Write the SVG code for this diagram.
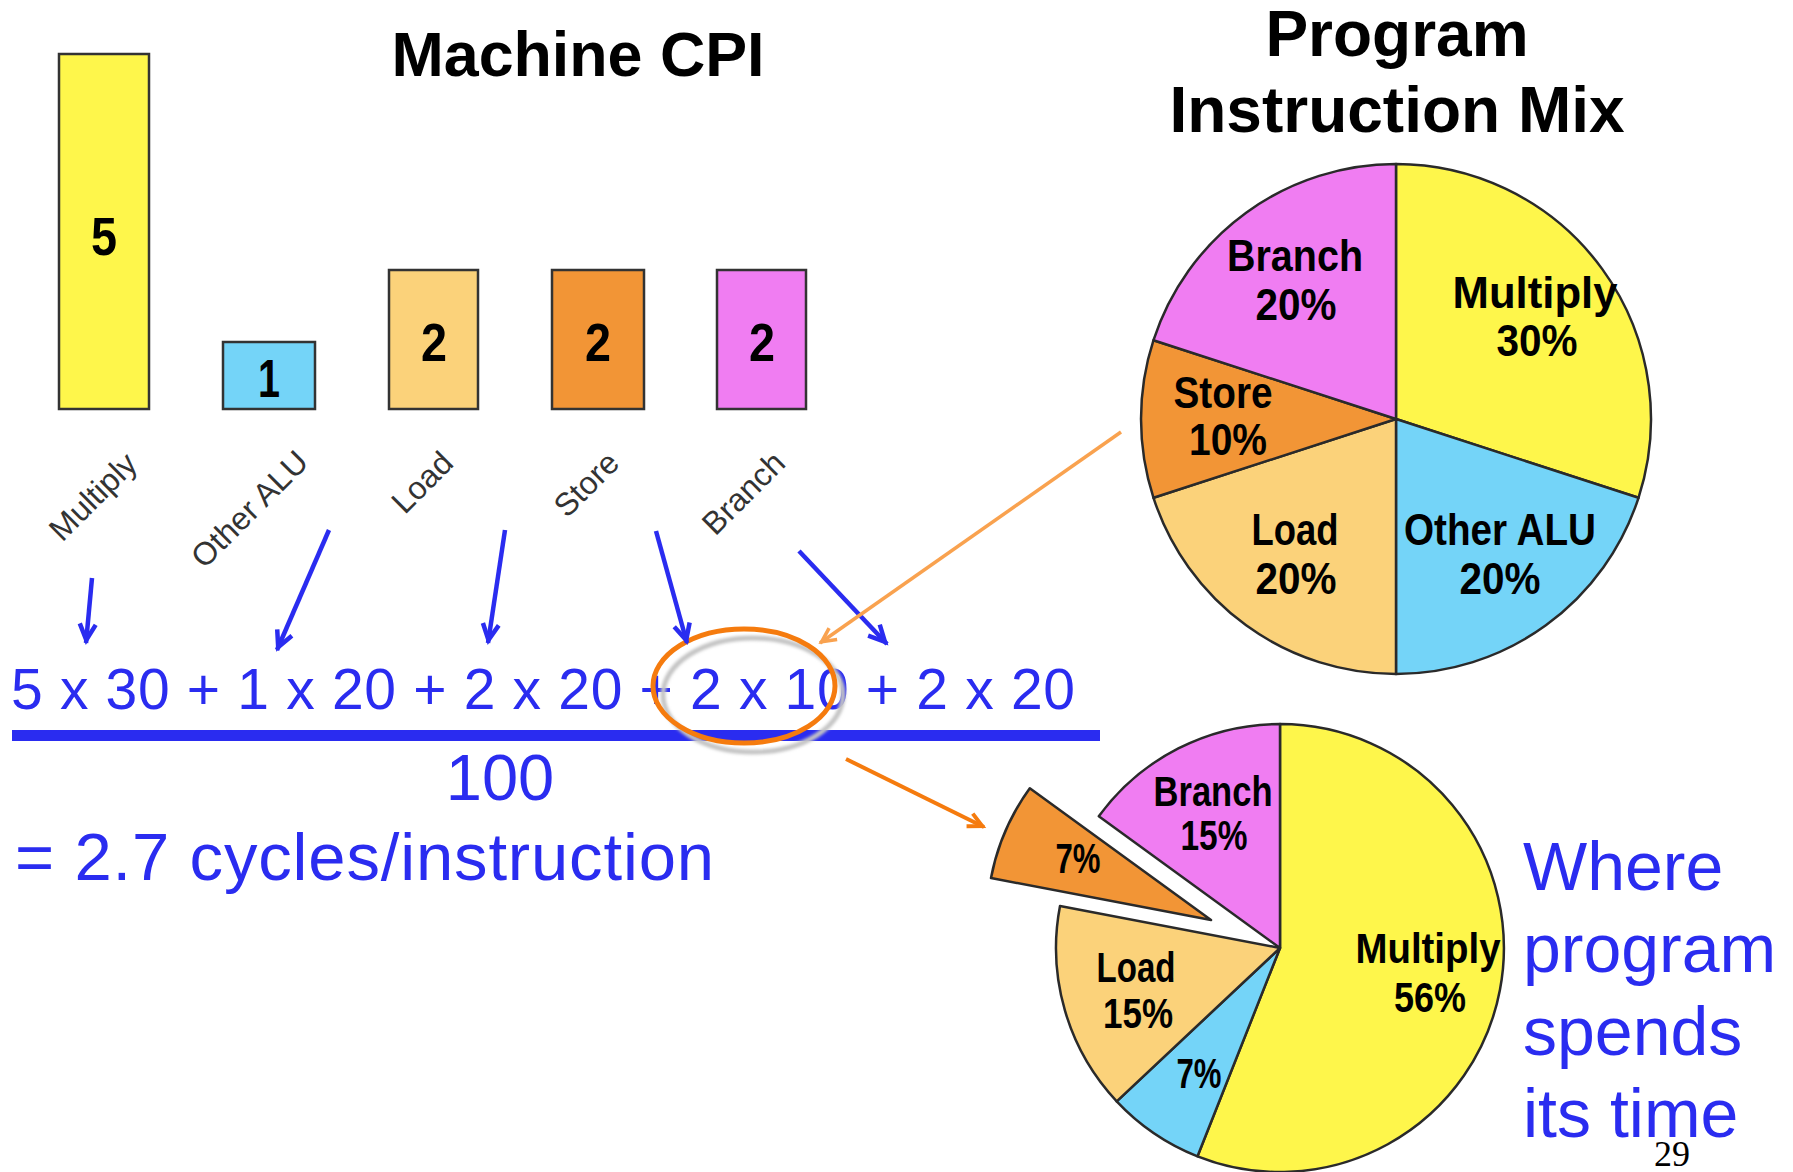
<svg xmlns="http://www.w3.org/2000/svg" width="1793" height="1172" viewBox="0 0 1793 1172">
<style>
.title{font-family:"Liberation Sans",Arial,sans-serif;font-weight:bold;fill:#000;text-anchor:middle}
.blue{font-family:"Liberation Sans",Arial,sans-serif;fill:#2A2CF0}
.axis{font-family:"Liberation Sans",Arial,sans-serif;font-size:32px;fill:#333;text-anchor:end}
.num{font-family:"Liberation Sans",Arial,sans-serif;font-weight:bold;font-size:54px;fill:#000;text-anchor:middle}
.pl{font-family:"Liberation Sans",Arial,sans-serif;font-weight:bold;font-size:45px;fill:#000;text-anchor:middle}
.pl2{font-family:"Liberation Sans",Arial,sans-serif;font-weight:bold;font-size:42px;fill:#000;text-anchor:middle}
.bar{stroke:#333;stroke-width:2.5}
.sl{stroke:#2a2a2a;stroke-width:2.5;stroke-linejoin:round}
.yel{fill:#FEF64B}.cya{fill:#74D4F8}.lor{fill:#FBD27A}.org{fill:#F29536}.mag{fill:#F07DF2}
.barr{stroke:#2A2CF0;stroke-width:4.5;fill:none;marker-end:url(#ab)}
</style>
<defs>
<marker id="ab" markerUnits="userSpaceOnUse" markerWidth="30" markerHeight="30" viewBox="-22 -15 30 30" refX="3" refY="0" orient="auto">
<path d="M-16,-8 L0,0 L-16,8" fill="none" stroke="#2A2CF0" stroke-width="4.5"/>
</marker>
<marker id="alo" markerUnits="userSpaceOnUse" markerWidth="30" markerHeight="30" viewBox="-22 -15 30 30" refX="2" refY="0" orient="auto">
<path d="M-14,-7 L0,0 L-14,7" fill="none" stroke="#F9A24F" stroke-width="3.5"/>
</marker>
<marker id="ado" markerUnits="userSpaceOnUse" markerWidth="30" markerHeight="30" viewBox="-22 -15 30 30" refX="2" refY="0" orient="auto">
<path d="M-14,-7 L0,0 L-14,7" fill="none" stroke="#F57B0E" stroke-width="4"/>
</marker>
<filter id="blur" x="-20%" y="-20%" width="140%" height="140%"><feGaussianBlur stdDeviation="1.5"/></filter>
</defs>
<rect width="1793" height="1172" fill="#fff"/>

<g id="title-cpi"><text class="title" x="578" y="76" font-size="63" textLength="373" lengthAdjust="spacingAndGlyphs">Machine CPI</text></g>
<g id="title-mix">
<text class="title" x="1397" y="56" font-size="64">Program</text>
<text class="title" x="1397" y="132" font-size="64">Instruction Mix</text>
</g>

<g id="bar-multiply"><rect class="bar yel" x="59" y="54" width="90" height="355"/><text class="num" x="104" y="255" textLength="26" lengthAdjust="spacingAndGlyphs">5</text></g>
<g id="bar-otheralu"><rect class="bar cya" x="223" y="342" width="92" height="67"/><text class="num" x="269" y="397" font-size="50" textLength="22" lengthAdjust="spacingAndGlyphs">1</text></g>
<g id="bar-load"><rect class="bar lor" x="389" y="270" width="89" height="139"/><text class="num" x="434" y="361" textLength="26" lengthAdjust="spacingAndGlyphs">2</text></g>
<g id="bar-store"><rect class="bar org" x="552" y="270" width="92" height="139"/><text class="num" x="598" y="361" textLength="26" lengthAdjust="spacingAndGlyphs">2</text></g>
<g id="bar-branch"><rect class="bar mag" x="717" y="270" width="89" height="139"/><text class="num" x="762" y="361" textLength="26" lengthAdjust="spacingAndGlyphs">2</text></g>

<g id="axis-labels">
<text class="axis" transform="translate(139,466) rotate(-45)">Multiply</text>
<text class="axis" transform="translate(310,464) rotate(-45)">Other ALU</text>
<text class="axis" transform="translate(455,465) rotate(-45)">Load</text>
<text class="axis" transform="translate(621,465) rotate(-45)">Store</text>
<text class="axis" transform="translate(787,465) rotate(-45)">Branch</text>
</g>

<g id="pie-mix">
<path class="sl yel" d="M1396,419 L1396,164 A255,255 0 0 1 1638.5,497.8 Z"/>
<path class="sl cya" d="M1396,419 L1638.5,497.8 A255,255 0 0 1 1396,674 Z"/>
<path class="sl lor" d="M1396,419 L1396,674 A255,255 0 0 1 1153.5,497.8 Z"/>
<path class="sl org" d="M1396,419 L1153.5,497.8 A255,255 0 0 1 1153.5,340.2 Z"/>
<path class="sl mag" d="M1396,419 L1153.5,340.2 A255,255 0 0 1 1396,164 Z"/>
<text class="pl" x="1295" y="271" textLength="136" lengthAdjust="spacingAndGlyphs">Branch</text>
<text class="pl" x="1296" y="320" textLength="81" lengthAdjust="spacingAndGlyphs">20%</text>
<text class="pl" x="1535" y="308" textLength="165" lengthAdjust="spacingAndGlyphs">Multiply</text>
<text class="pl" x="1537" y="356" textLength="81" lengthAdjust="spacingAndGlyphs">30%</text>
<text class="pl" x="1223" y="408" textLength="99" lengthAdjust="spacingAndGlyphs">Store</text>
<text class="pl" x="1228" y="455" textLength="78" lengthAdjust="spacingAndGlyphs">10%</text>
<text class="pl" x="1295" y="545" textLength="87" lengthAdjust="spacingAndGlyphs">Load</text>
<text class="pl" x="1296" y="594" textLength="81" lengthAdjust="spacingAndGlyphs">20%</text>
<text class="pl" x="1500" y="545" textLength="192" lengthAdjust="spacingAndGlyphs">Other ALU</text>
<text class="pl" x="1500" y="594" textLength="81" lengthAdjust="spacingAndGlyphs">20%</text>
</g>

<g id="pie-time">
<path class="sl yel" d="M1280,948 L1280,724 A224,224 0 1 1 1197.5,1156.3 Z"/>
<path class="sl cya" d="M1280,948 L1197.5,1156.3 A224,224 0 0 1 1116.7,1101.3 Z"/>
<path class="sl lor" d="M1280,948 L1116.7,1101.3 A224,224 0 0 1 1060,906 Z"/>
<path class="sl mag" d="M1280,948 L1098.8,816.3 A224,224 0 0 1 1280,724 Z"/>
<path class="sl org" d="M1211,920 L991,878 A224,224 0 0 1 1029.8,788.3 Z"/>
<text class="pl2" x="1213" y="806" textLength="119" lengthAdjust="spacingAndGlyphs">Branch</text>
<text class="pl2" x="1214" y="850" textLength="67" lengthAdjust="spacingAndGlyphs">15%</text>
<text class="pl2" x="1078" y="873" textLength="45" lengthAdjust="spacingAndGlyphs">7%</text>
<text class="pl2" x="1136" y="982" textLength="79" lengthAdjust="spacingAndGlyphs">Load</text>
<text class="pl2" x="1138" y="1028" textLength="70" lengthAdjust="spacingAndGlyphs">15%</text>
<text class="pl2" x="1199" y="1088" textLength="45" lengthAdjust="spacingAndGlyphs">7%</text>
<text class="pl2" x="1428" y="963" textLength="145" lengthAdjust="spacingAndGlyphs">Multiply</text>
<text class="pl2" x="1430" y="1012" textLength="72" lengthAdjust="spacingAndGlyphs">56%</text>
</g>

<g id="equation">
<text class="blue" x="11" y="709" font-size="57" textLength="1064">5 x 30 + 1 x 20 + 2 x 20 + 2 x 10 + 2 x 20</text>
<rect x="12" y="730" width="1088" height="11" fill="#2A2CF0"/>
<text class="blue" x="500" y="800" font-size="65" text-anchor="middle">100</text>
<text class="blue" x="15" y="880" font-size="67" textLength="699">= 2.7 cycles/instruction</text>
</g>

<g id="highlight">
<ellipse cx="753" cy="695" rx="90" ry="57" fill="none" stroke="#C4C4C4" stroke-width="5" filter="url(#blur)"/>
<ellipse cx="744" cy="686" rx="91" ry="57" fill="none" stroke="#F57B0E" stroke-width="5"/>
</g>

<g id="note">
<text class="blue" font-size="68"><tspan x="1523" y="890">Where</tspan><tspan x="1523" y="972">program</tspan><tspan x="1523" y="1055">spends</tspan><tspan x="1523" y="1137">its time</tspan></text>
</g>
<g id="page"><text x="1672" y="1166" font-family="'Liberation Serif','Times New Roman',serif" font-size="36" text-anchor="middle" fill="#000">29</text></g>

<g id="connectors">
<line class="barr" x1="92" y1="578" x2="86" y2="643"/>
<line class="barr" x1="329" y1="530" x2="277" y2="650"/>
<line class="barr" x1="505" y1="530" x2="488" y2="643"/>
<line class="barr" x1="656" y1="531" x2="687" y2="643"/>
<line class="barr" x1="799" y1="551" x2="887" y2="644"/>
<line x1="1121" y1="432" x2="820" y2="643" stroke="#F9A24F" stroke-width="3.5" marker-end="url(#alo)"/>
<line x1="846" y1="759" x2="984" y2="827" stroke="#F57B0E" stroke-width="4" marker-end="url(#ado)"/>
</g>
</svg>
